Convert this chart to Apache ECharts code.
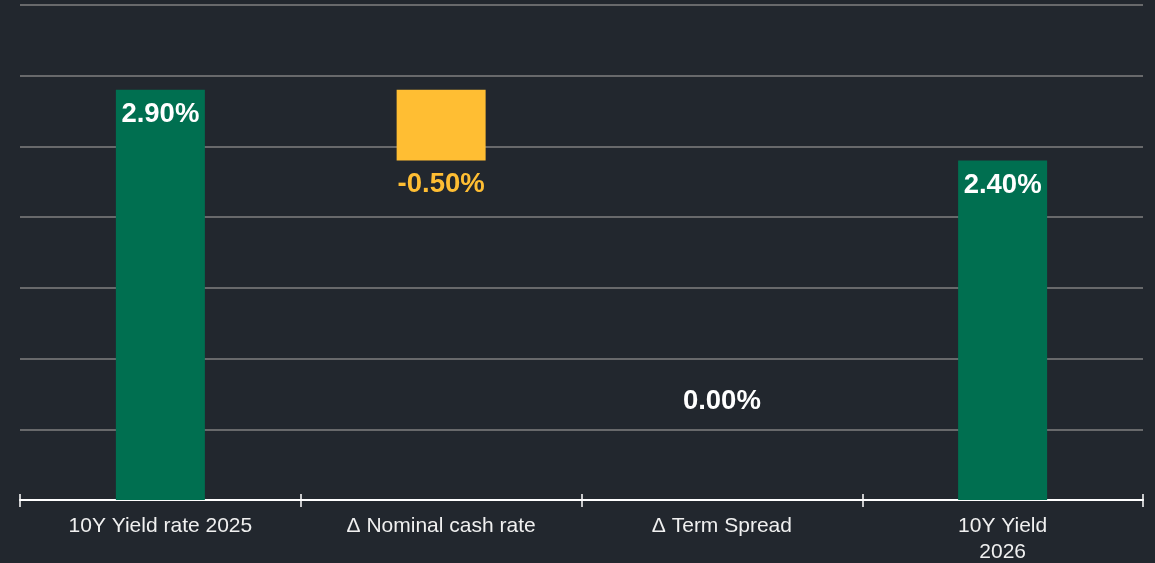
<!DOCTYPE html>
<html>
<head>
<meta charset="utf-8">
<script src="https://cdn.jsdelivr.net/npm/echarts@6/dist/echarts.min.js"></script>
<style>
html,body{margin:0;padding:0;background:#22272e;}
#chart{width:1155px;height:563px;}
</style>
</head>
<body>
<div id="chart"></div>
<script>
// waterfall: start, changes, end
var categories = ['10Y Yield rate 2025', '\u0394 Nominal cash rate', '\u0394 Term Spread', '10Y Yield\n2026'];
var values = [2.90, -0.50, 0.00, 2.40];
var kinds = ['total', 'delta', 'delta', 'total'];
var yTicks = [0, 0.5, 1, 1.5, 2, 2.5, 3, 3.5];

var green = '#006f50', yellow = '#ffbe33';

// build base + height from running total
var base = [], height = [], running = 0;
for (var i = 0; i < values.length; i++) {
  if (kinds[i] == 'total') {
    base.push(0);
    height.push(values[i]);
    running = values[i];
  } else {
    var next = running + values[i];
    base.push(Math.min(running, next));
    height.push(Math.abs(values[i]));
    running = next;
  }
}

var heightData = height.map(function (h, i) {
  var item = { value: h, itemStyle: { color: kinds[i] == 'total' ? green : yellow } };
  if (kinds[i] == 'total') {
    item.label = { position: 'insideTop', distance: 11, color: '#ffffff' };
  } else if (values[i] < 0) {
    item.label = { position: 'bottom', distance: 10, color: yellow };
  } else {
    item.label = { show: false };
  }
  return item;
});

// zero change: label sits low over the empty slot
var baseData = base.map(function (b, i) {
  var item = { value: b };
  if (kinds[i] == 'delta' && values[i] == 0) {
    item.label = { show: true, position: 'insideBottom', distance: 85, color: '#ffffff' };
  }
  return item;
});

var fmt = function (p) { return values[p.dataIndex].toFixed(2) + '%'; };
var labelStyle = { fontFamily: 'Liberation Sans, Arial, sans-serif', fontSize: 27.5, fontWeight: 'bold', formatter: fmt };

var chart = echarts.init(document.getElementById('chart'));
chart.setOption({
  backgroundColor: '#22272e',
  animation: false,
  grid: { left: 20, right: 12, top: 5, bottom: 63, containLabel: false, outerBoundsMode: 'none' },
  xAxis: [{
    type: 'category',
    data: categories,
    axisLine: { lineStyle: { color: '#ffffff', width: 2 } },
    axisTick: { show: true, length: 7, lineStyle: { color: '#ffffff', width: 1.5 } },
    axisLabel: { color: '#f0f0f0', fontSize: 21, fontFamily: 'Liberation Sans, Arial, sans-serif', margin: 13, lineHeight: 26, interval: 0 },
    splitLine: { show: false }
  }, {
    type: 'category',
    data: categories,
    position: 'bottom',
    axisLine: { show: false },
    axisTick: { show: true, inside: true, length: 6, lineStyle: { color: '#ffffff', width: 1.5 } },
    axisLabel: { show: false }
  }],
  yAxis: {
    type: 'value',
    min: yTicks[0],
    max: yTicks[yTicks.length - 1],
    interval: 0.5,
    axisLine: { show: false },
    axisTick: { show: false },
    axisLabel: { show: false },
    splitLine: { lineStyle: { color: '#808080', width: 1.5 } }
  },
  series: [{
    type: 'bar',
    stack: 'wf',
    data: baseData,
    barWidth: '31.7%',
    itemStyle: { color: 'transparent' },
    label: Object.assign({ show: false }, labelStyle),
    silent: true
  }, {
    type: 'bar',
    stack: 'wf',
    data: heightData,
    barWidth: '31.7%',
    label: Object.assign({ show: true }, labelStyle)
  }]
});
</script>
</body>
</html>
